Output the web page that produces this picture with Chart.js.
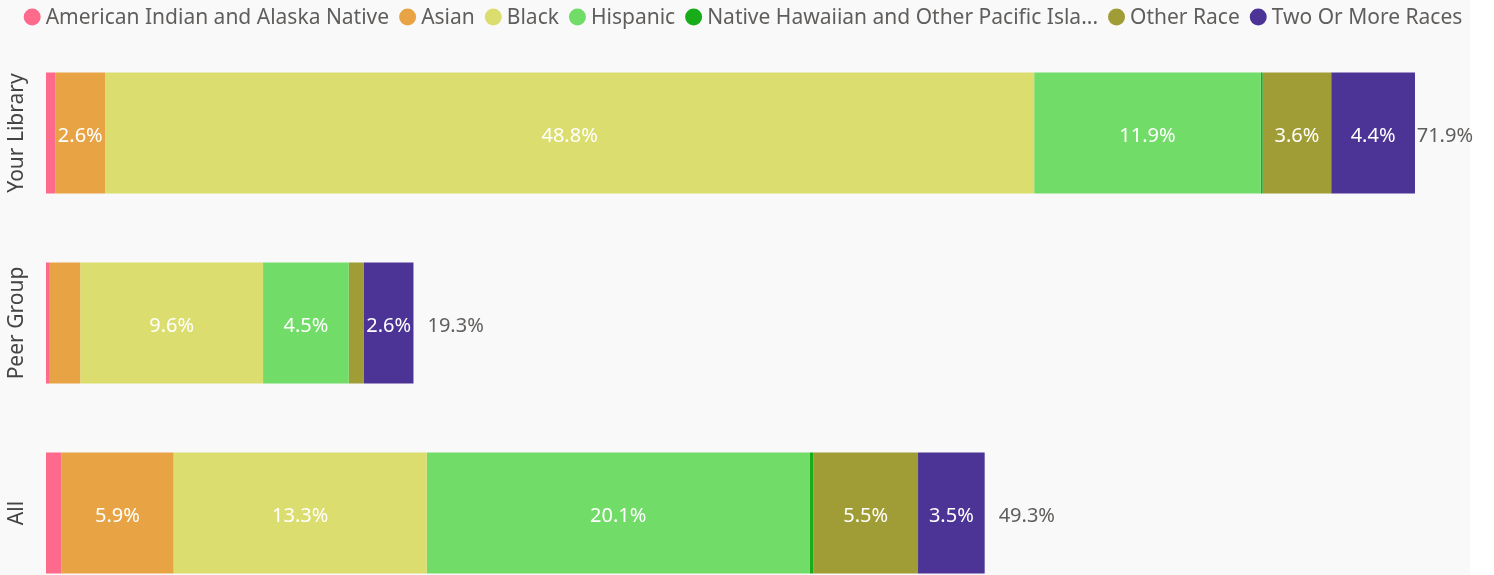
<!DOCTYPE html>
<html><head><meta charset="utf-8">
<script src="https://cdn.jsdelivr.net/npm/chart.js@4/dist/chart.umd.min.js"></script>
<style>
html,body{margin:0;padding:0;overflow:hidden;background:#fff;}
#wrap{width:1494px;height:610px;position:relative;background:linear-gradient(to right,#f9f9f9 1470px,#ffffff 1470px);}
</style></head><body>
<div id="wrap"><canvas id="c"></canvas></div>
<script>
const categories = ['Your Library', 'Peer Group', 'All'];
const seriesNames = ['American Indian and Alaska Native', 'Asian', 'Black', 'Hispanic',
  'Native Hawaiian and Other Pacific Islander', 'Other Race', 'Two Or More Races'];
const aian      = [0.5, 0.2, 0.8];
const asian     = [2.6, 1.6, 5.9];
const black     = [48.8, 9.6, 13.3];
const hispanic  = [11.9, 4.5, 20.1];
const nhpi      = [0.1, 0.0, 0.2];
const otherRace = [3.6, 0.8, 5.5];
const twoOrMore = [4.4, 2.6, 3.5];
const totals    = [71.9, 19.3, 49.3];
const colors = ['#FD6A8B', '#E8A444', '#DBDE6F', '#72DC68', '#19AC19', '#A09D36', '#4B3495'];

const FONT = '"Noto Sans", "Open Sans", sans-serif';
const seriesData = [aian, asian, black, hispanic, nhpi, otherRace, twoOrMore];

function truncate(ctx, text, maxW) {
  if (ctx.measureText(text).width <= maxW) return text;
  let t = text;
  while (t.length > 1 && ctx.measureText(t + '...').width > maxW) t = t.slice(0, -1);
  return t + '...';
}

const legendPlugin = {
  id: 'customLegend',
  afterDraw(chart) {
    const ctx = chart.ctx;
    ctx.save();
    ctx.font = '21px ' + FONT;
    ctx.textBaseline = 'middle';
    ctx.textAlign = 'left';
    const D = 17, GAP = 5, SEP = 10;
    const items = chart.data.datasets.map(ds => {
      const text = truncate(ctx, ds.label, 393);
      return { text, color: ds.backgroundColor, w: ctx.measureText(text).width };
    });
    const total = items.reduce((s, it) => s + D + GAP + it.w, 0) + SEP * (items.length - 1);
    let x = 743 - total / 2;
    const y = 17;
    items.forEach(it => {
      ctx.fillStyle = it.color;
      ctx.beginPath();
      ctx.arc(x + D / 2, y, D / 2, 0, Math.PI * 2);
      ctx.fill();
      ctx.fillStyle = '#605E5C';
      ctx.fillText(it.text, x + D + GAP, y + 1);
      x += D + GAP + it.w + SEP;
    });
    ctx.restore();
  }
};

const labelPlugin = {
  id: 'labels',
  afterDatasetsDraw(chart) {
    const ctx = chart.ctx;
    ctx.save();
    ctx.font = '20px ' + FONT;
    ctx.textBaseline = 'middle';
    ctx.textAlign = 'center';
    chart.data.datasets.forEach((ds, di) => {
      const meta = chart.getDatasetMeta(di);
      meta.data.forEach((bar, i) => {
        const v = ds.data[i];
        const txt = v.toFixed(1) + '%';
        const w = Math.abs(bar.x - bar.base);
        if (ctx.measureText(txt).width + 4 <= w) {
          ctx.fillStyle = '#ffffff';
          ctx.fillText(txt, (bar.x + bar.base) / 2, bar.y + 3);
        }
      });
    });
    // totals
    const xs = chart.scales.x, ys = chart.scales.y;
    ctx.textAlign = 'left';
    ctx.fillStyle = '#605E5C';
    totals.forEach((t, i) => {
      const txt = t.toFixed(1) + '%';
      const tw = ctx.measureText(txt).width;
      let x = xs.getPixelForValue(t) + 14;
      if (x + tw > 1473) x = 1473 - tw;
      ctx.fillText(txt, x, ys.getPixelForValue(i) + 3);
    });
    // category labels (rotated)
    ctx.font = '21px ' + FONT;
    ctx.fillStyle = '#444444';
    ctx.textAlign = 'center';
    categories.forEach((c, i) => {
      ctx.save();
      ctx.translate(17, ys.getPixelForValue(i));
      ctx.rotate(-Math.PI / 2);
      ctx.fillText(c, 0, 0);
      ctx.restore();
    });
    ctx.restore();
  }
};

new Chart(document.getElementById('c'), {
  type: 'bar',
  data: {
    labels: categories,
    datasets: seriesNames.map((n, k) => ({
      label: n,
      data: seriesData[k],
      backgroundColor: colors[k],
      borderWidth: 0,
      barPercentage: 0.637,
      categoryPercentage: 1.0
    }))
  },
  options: {
    indexAxis: 'y',
    responsive: true,
    maintainAspectRatio: false,
    animation: false,
    layout: { padding: { left: 46, right: 20, top: 38, bottom: 2 } },
    scales: {
      x: { stacked: true, display: false, min: 0, max: 75 },
      y: { stacked: true, display: false }
    },
    plugins: {
      tooltip: { enabled: false },
      legend: { display: false }
    }
  },
  plugins: [labelPlugin, legendPlugin]
});
</script>
</body></html>
